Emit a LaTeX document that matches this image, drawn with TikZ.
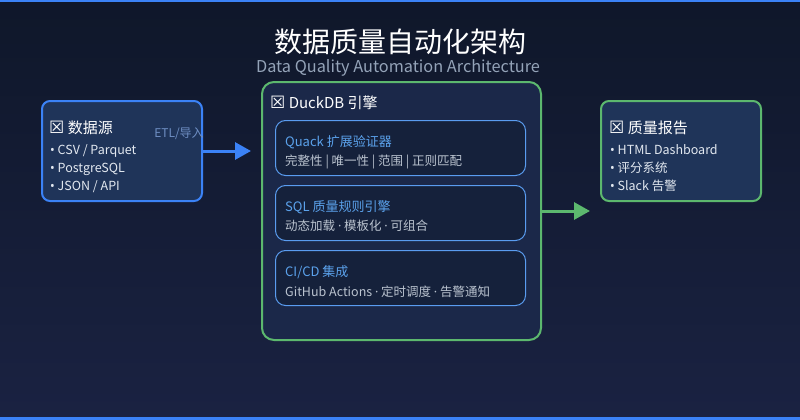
\documentclass[tikz,border=0pt]{standalone}
\usepackage{fontspec}
\setmainfont{Noto Sans CJK SC}
\newfontfamily\symfont{DejaVu Sans}
\newfontfamily\latfont{Noto Sans}
\newcommand{\bx}{{\symfont\fontsize{17}{18}\selectfont ☒}}
\newcommand{\bul}{{\latfont •}}
\newcommand{\mdot}{{\latfont ·}}
\usetikzlibrary{arrows.meta}
\definecolor{bgtop}{HTML}{0F172A}
\definecolor{bgbot}{HTML}{1A2242}
\definecolor{accblue}{HTML}{3B82F6}
\definecolor{accgreen}{HTML}{5CB86E}
\definecolor{boxfill}{HTML}{1F3459}
\definecolor{engfill}{HTML}{1B2849}
\definecolor{innfill}{HTML}{15213B}
\definecolor{innborder}{HTML}{5A9CF0}
\definecolor{inntitle}{HTML}{5BA2EC}
\definecolor{desctext}{HTML}{BAC3CF}
\definecolor{bullettext}{HTML}{E2E8F0}
\definecolor{subtext}{HTML}{94A3B8}
\definecolor{etltext}{HTML}{6F8FC4}
\tikzset{
  outerbox/.style={draw, line width=2pt, rounded corners=8pt, anchor=north west, inner sep=0pt},
  engbox/.style={draw=accgreen, fill=engfill, line width=2pt, rounded corners=12pt, anchor=north west, inner sep=0pt},
  innbox/.style={draw=innborder, fill=innfill, line width=1pt, rounded corners=10pt, anchor=north west, inner sep=0pt, minimum width=250pt, minimum height=55pt},
  boxtitle/.style={anchor=base west, inner sep=0pt, text=white, font=\fontsize{15}{18}\selectfont},
  bullet/.style={anchor=base west, inner sep=0pt, text=bullettext, font=\fontsize{12.5}{15}\selectfont},
  inntitletext/.style={anchor=base west, inner sep=0pt, text=inntitle, font=\fontsize{13}{16}\selectfont},
  desc/.style={anchor=base west, inner sep=0pt, text=desctext, font=\fontsize{12.5}{15}\selectfont},
  flow/.style={line width=3pt, -{Triangle[length=16pt,width=17pt]}, shorten >=10pt},
}
\begin{document}
\begin{tikzpicture}[x=1pt,y=-1pt]
\useasboundingbox (0,0) rectangle (800,420);
\shade[top color=bgtop, bottom color=bgbot] (0,0) rectangle (800,420);
\fill[accblue] (0,0) rectangle (800,2);
\fill[accblue] (0,417) rectangle (800,420);

% title
\node[text=white, font=\fontsize{28}{32}\selectfont, inner sep=0pt] (title) at (400,42) {数据质量自动化架构};
\node[text=subtext, font=\fontsize{16.3}{19}\selectfont, inner sep=0pt] (subtitle) at (398,68) {Data Quality Automation Architecture};

% source box
\node[outerbox, draw=accblue, fill=boxfill, minimum width=160pt, minimum height=100pt] (src) at (41,100) {};
\node[boxtitle] (srct) at (49,133) {\bx\ 数据源};
\node[bullet] (s1) at (50,154) {\bul\ CSV / Parquet};
\node[bullet] (s2) at (50,172) {\bul\ PostgreSQL};
\node[bullet] (s3) at (50,190) {\bul\ JSON / API};

% engine box
\node[engbox, minimum width=279pt, minimum height=258pt] (eng) at (261,81) {};
\node[boxtitle] (engt) at (270,108) {\bx\ DuckDB 引擎};

\node[innbox] (q) at (275,120) {};
\node[inntitletext] (qt) at (285,146) {Quack 扩展验证器};
\node[desc] (qd) at (285,165) {完整性 | 唯一性 | 范围 | 正则匹配};

\node[innbox] (sq) at (275,185) {};
\node[inntitletext] (sqt) at (285,211) {SQL 质量规则引擎};
\node[desc] (sqd) at (285,230) {动态加载 \mdot{} 模板化 \mdot{} 可组合};

\node[innbox] (ci) at (275,250) {};
\node[inntitletext] (cit) at (285,276) {CI/CD 集成};
\node[desc] (cid) at (285,296) {GitHub Actions \mdot{} 定时调度 \mdot{} 告警通知};

% report box
\node[outerbox, draw=accgreen, fill=boxfill, minimum width=160pt, minimum height=100pt] (rpt) at (600,100) {};
\node[boxtitle] (rptt) at (609,133) {\bx\ 质量报告};
\node[bullet] (r1) at (610,154) {\bul\ HTML Dashboard};
\node[bullet] (r2) at (610,172) {\bul\ 评分系统};
\node[bullet] (r3) at (610,190) {\bul\ Slack 告警};

% connectors
\draw[flow, accblue] (src.east) -- (src.east -| eng.west);
\node[text=etltext, font=\fontsize{12}{14}\selectfont, inner sep=0pt] (etl) at (179,134) {ETL/导入};
\draw[flow, accgreen] (eng.east) -- (eng.east -| rpt.west);
\end{tikzpicture}
\end{document}
